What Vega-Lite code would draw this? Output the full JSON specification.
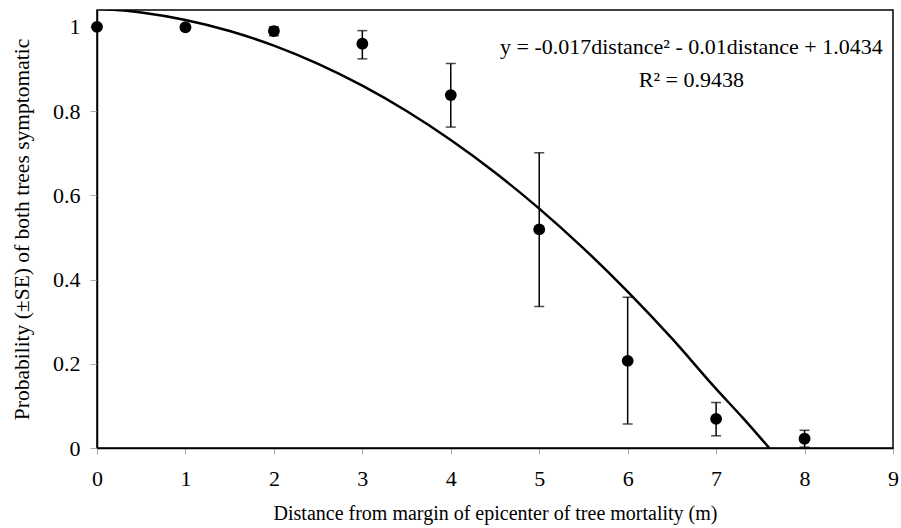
{
  "$schema": "https://vega.github.io/schema/vega-lite/v6.json",
  "autosize": {"type": "none"},
  "width": 796,
  "height": 438,
  "padding": {"left": 97, "top": 10, "right": 8, "bottom": 80},
  "background": "white",
  "config": {
    "font": "Liberation Serif",
    "view": {"stroke": "black", "strokeWidth": 1.5},
    "axis": {
      "grid": false,
      "domainColor": "black",
      "domainWidth": 1.5,
      "tickColor": "#aaaaaa",
      "tickWidth": 1,
      "labelFont": "Liberation Serif",
      "titleFont": "Liberation Serif",
      "labelFontSize": 22,
      "titleFontSize": 20,
      "labelColor": "black",
      "titleColor": "black",
      "titleFontWeight": "normal"
    }
  },
  "datasets": {
    "pts": [
      {"d": 0, "p": 1.0, "lo": 1.0, "hi": 1.0},
      {"d": 1, "p": 0.999, "lo": 0.999, "hi": 0.999},
      {"d": 2, "p": 0.99, "lo": 0.979, "hi": 1.0},
      {"d": 3, "p": 0.96, "lo": 0.924, "hi": 0.991},
      {"d": 4, "p": 0.838, "lo": 0.762, "hi": 0.913},
      {"d": 5, "p": 0.519, "lo": 0.336, "hi": 0.701},
      {"d": 6, "p": 0.207, "lo": 0.057, "hi": 0.358},
      {"d": 7, "p": 0.069, "lo": 0.029, "hi": 0.108},
      {"d": 8, "p": 0.022, "lo": 0.002, "hi": 0.042}
    ],
    "curve": [
      {"d": 0, "p": 1.0434},
      {"d": 0.5, "p": 1.0342},
      {"d": 1, "p": 1.0164},
      {"d": 1.5, "p": 0.9902},
      {"d": 2, "p": 0.9554},
      {"d": 2.5, "p": 0.9122},
      {"d": 3, "p": 0.8604},
      {"d": 3.5, "p": 0.8002},
      {"d": 4, "p": 0.7314},
      {"d": 4.5, "p": 0.6542},
      {"d": 5, "p": 0.5684},
      {"d": 5.5, "p": 0.4742},
      {"d": 6, "p": 0.3714},
      {"d": 6.5, "p": 0.2602},
      {"d": 7, "p": 0.1404},
      {"d": 7.3, "p": 0.072},
      {"d": 7.6, "p": 0.0}
    ],
    "notes": [
      {"d": 6.72, "p": 0.952, "t": "y = -0.017distance² - 0.01distance + 1.0434"},
      {"d": 6.72, "p": 0.874, "t": "R² = 0.9438"}
    ]
  },
  "encoding": {
    "x": {
      "field": "d", "type": "quantitative",
      "scale": {"domain": [0, 9], "nice": false},
      "axis": {"values": [0,1,2,3,4,5,6,7,8,9], "format": "~g", "tickSize": 6, "labelPadding": 14, "titlePadding": 14, "labelFlush": false,
               "title": "Distance from margin of epicenter of tree mortality (m)"}
    },
    "y": {
      "field": "p", "type": "quantitative",
      "scale": {"domain": [0, 1.04], "nice": false, "zero": true},
      "axis": {"values": [0, 0.2, 0.4, 0.6, 0.8, 1], "format": "~g", "tickSize": 7, "labelPadding": 10, "titlePadding": 19, "labelFlush": false,
               "titleFontSize": 21.5,
               "title": "Probability (±SE) of both trees symptomatic"}
    }
  },
  "layer": [
    {
      "data": {"name": "curve"},
      "mark": {"type": "line", "color": "black", "strokeWidth": 2.5, "interpolate": "monotone", "clip": true}
    },
    {
      "data": {"name": "pts"},
      "transform": [{"filter": "datum.hi > datum.lo"}],
      "mark": {"type": "rule", "color": "black", "strokeWidth": 1.5},
      "encoding": {"y": {"field": "lo", "type": "quantitative"}, "y2": {"field": "hi"}}
    },
    {
      "data": {"name": "pts"},
      "transform": [{"filter": "datum.hi > datum.lo"}],
      "mark": {"type": "tick", "orient": "horizontal", "color": "black", "size": 10, "thickness": 1.5},
      "encoding": {"y": {"field": "lo", "type": "quantitative"}}
    },
    {
      "data": {"name": "pts"},
      "transform": [{"filter": "datum.hi > datum.lo"}],
      "mark": {"type": "tick", "orient": "horizontal", "color": "black", "size": 10, "thickness": 1.5},
      "encoding": {"y": {"field": "hi", "type": "quantitative"}}
    },
    {
      "data": {"name": "pts"},
      "mark": {"type": "point", "filled": true, "color": "black", "opacity": 1, "size": 140}
    },
    {
      "data": {"name": "notes"},
      "mark": {"type": "text", "color": "black", "font": "Liberation Serif", "fontSize": 22, "align": "center", "baseline": "middle"},
      "encoding": {"text": {"field": "t"}}
    }
  ]
}
